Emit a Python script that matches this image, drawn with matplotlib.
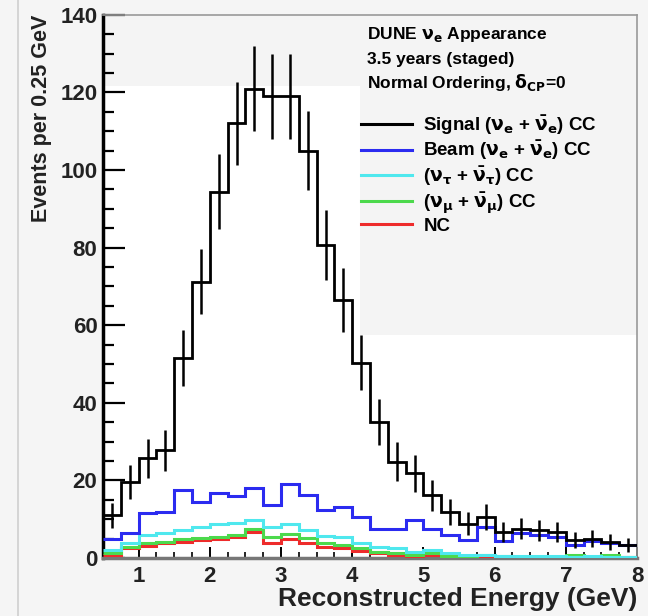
import numpy as np
import matplotlib.pyplot as plt
from matplotlib.patches import Rectangle
from matplotlib.lines import Line2D

plt.rcParams['font.family'] = ['Liberation Sans', 'DejaVu Sans']
plt.rcParams['font.weight'] = 'bold'
plt.rcParams['axes.labelweight'] = 'bold'
plt.rcParams['mathtext.default'] = 'bf'

# 0.25 GeV bins from 0.5 to 8 GeV
edges = np.arange(0.5, 8.0001, 0.25)

signal = [11, 19.5, 25.7, 27.8, 51.5, 71.2, 94.4, 112, 121, 119, 119, 105, 80.7, 66.5, 50.3,
          35.1, 24.8, 21.8, 16.2, 11.9, 8.9, 10.6, 6.8, 7.6, 7.2, 6.8, 4.6, 5.0, 4.2, 3.4]
signal_err = [3.3, 4.4, 5.1, 5.3, 7.2, 8.4, 9.7, 10.6, 11.0, 10.9, 10.9, 10.2, 9.0, 8.2, 7.1,
              5.9, 5.0, 4.7, 4.0, 3.4, 3.0, 3.3, 2.6, 2.8, 2.7, 2.6, 2.1, 2.2, 2.0, 1.8]
beam = [4.8, 6.4, 11.5, 11.8, 17.5, 14.5, 16.9, 16.0, 18.0, 13.7, 19.1, 16.2, 12.5, 13.1, 10.6,
        7.5, 7.6, 9.7, 7.6, 6.0, 4.7, 7.9, 4.5, 6.4, 5.9, 5.5, 3.4, 4.5, 3.9, 3.4]
nutau = [2.1, 3.8, 5.9, 6.4, 7.2, 8.1, 8.8, 9.1, 9.8, 8.1, 8.8, 7.2, 5.7, 5.5, 3.8,
         2.9, 2.5, 1.6, 2.1, 1.2, 0.8, 0.9, 0.6, 0.6, 0.5, 0.5, 0.4, 0.5, 0.4, 0.4]
numu = [1.2, 2.9, 3.8, 4.2, 4.8, 5.1, 5.5, 5.9, 7.6, 5.5, 6.2, 5.1, 3.8, 3.4, 2.5,
        1.6, 1.2, 0.8, 1.2, 0.5, 0.4, 0.9, 0.5, 0.4, 0.4, 0.4, 0.8, 0.4, 0.8, 0.3]
nc = [0.8, 2.5, 3.1, 3.8, 4.2, 4.6, 4.8, 5.5, 6.8, 3.8, 4.8, 3.9, 2.9, 2.5, 1.9,
      1.2, 0.8, 0.5, 0.8, 0.3, 0.3, 0.3, 0.3, 0.3, 0.3, 0.3, 0.3, 0.3, 0.3, 0.3]

labels = [r'Signal ($\nu_e$ + $\bar{\nu}_e$) CC',
          r'Beam ($\nu_e$ + $\bar{\nu}_e$) CC',
          r'($\nu_\tau$ + $\bar{\nu}_\tau$) CC',
          r'($\nu_\mu$ + $\bar{\nu}_\mu$) CC',
          'NC']
colors = ['black', '#2b2bf0', '#4fe8ee', '#4cd94c', '#ee2b2b']

fig = plt.figure(figsize=(6.48, 6.16), dpi=100, facecolor='#f5f5f5')
fig.add_artist(Line2D([0.028, 0.028], [0, 1], color='#cfcfcf', lw=1.2))
ax = fig.add_axes([0.159, 0.094, 0.824, 0.882])
ax.set_facecolor('white')

# grey screenshot patches behind the header text
ax.add_patch(Rectangle((0, 0.869), 1, 0.131, transform=ax.transAxes, color='#f4f4f4', zorder=0, lw=0))
ax.add_patch(Rectangle((0.481, 0.411), 0.519, 0.589, transform=ax.transAxes, color='#f4f4f4', zorder=0, lw=0))

centers = 0.5 * (edges[:-1] + edges[1:])
for vals, c, z in [(nc, colors[4], 3), (numu, colors[3], 3), (nutau, colors[2], 3), (beam, colors[1], 4)]:
    ax.stairs(vals, edges, baseline=None, color=c, lw=2.2, zorder=z)
ax.stairs(signal, edges, baseline=None, color='black', lw=2.0, zorder=5)
ax.errorbar(centers, signal, yerr=signal_err, fmt='none', ecolor='black', elinewidth=1.8, zorder=5)

handles = [Line2D([], [], color=c, lw=2.2) for c in colors]
ax.legend(handles, labels, loc='upper left', bbox_to_anchor=(0.47, 0.832), frameon=False,
          handlelength=2.7, handletextpad=0.6, labelspacing=0.12, fontsize=13.5, borderaxespad=0)

ax.text(0.495, 0.982, r'DUNE $\nu_e$ Appearance', transform=ax.transAxes, fontsize=12.5, va='top')
ax.text(0.495, 0.932, '3.5 years (staged)', transform=ax.transAxes, fontsize=12.5, va='top')
ax.text(0.495, 0.895, r'Normal Ordering, $\delta_{CP}$=0', transform=ax.transAxes, fontsize=12.5, va='top')

ax.set_xlim(0.5, 8)
ax.set_ylim(0, 140)
ax.set_xticks(range(1, 9))
ax.set_yticks(range(0, 141, 20))
ax.set_yticks(range(0, 141, 5), minor=True)
ax.set_xticks(np.arange(0.5, 8.01, 0.25), minor=True)
ax.tick_params(axis='y', which='major', direction='in', length=16, width=1.6, labelsize=16, pad=4,
               labelcolor='#222222')
ax.tick_params(axis='y', which='minor', direction='in', length=8, width=1.6)
ax.tick_params(axis='x', which='major', direction='in', length=8, width=1.4, labelsize=16, pad=6,
               labelcolor='#222222')
ax.tick_params(axis='x', which='minor', direction='in', length=4, width=1.2)

ax.spines['left'].set_linewidth(2.5)
ax.spines['bottom'].set_linewidth(2.5)
ax.spines['bottom'].set_color('#777777')
for s in ['top', 'right']:
    ax.spines[s].set_color('#999999')
    ax.spines[s].set_linewidth(1.2)

ax.set_xlabel('Reconstructed Energy (GeV)', loc='right', fontsize=19, labelpad=0, color='#222222')
ax.set_ylabel('Events per 0.25 GeV', loc='top', fontsize=15.5, labelpad=6, color='#222222')

fig.savefig('out.png', dpi=100, facecolor=fig.get_facecolor())
